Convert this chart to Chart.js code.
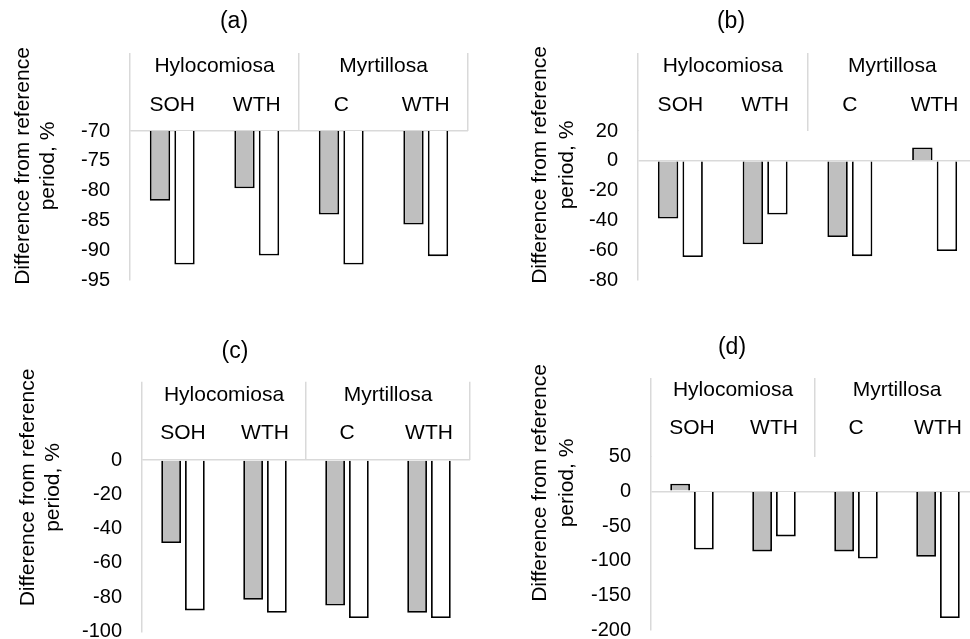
<!DOCTYPE html>
<html>
<head>
<meta charset="utf-8">
<script src="https://cdn.jsdelivr.net/npm/chart.js@4.4.1/dist/chart.umd.min.js"></script>
<style>
  html, body { margin: 0; padding: 0; background: #fff; overflow: hidden; }
  body { width: 970px; height: 639px; position: relative; }
  .panel { position: absolute; }
</style>
</head>
<body>
<div class="panel" style="left:0;top:0"><canvas id="chartA" width="485" height="320"></canvas></div>
<div class="panel" style="left:485px;top:0"><canvas id="chartB" width="533" height="320"></canvas></div>
<div class="panel" style="left:0;top:320px"><canvas id="chartC" width="490" height="319"></canvas></div>
<div class="panel" style="left:485px;top:320px"><canvas id="chartD" width="536" height="319"></canvas></div>
<script>
// categories
const groups = ["Hylocomiosa", "Myrtillosa"];
const treatments = ["SOH", "WTH", "C", "WTH"];
const yTitleLines = ["Difference from reference", "period, %"];

// values (grey bar, white bar)
const greyA = [-81.7, -79.6, -84.0, -85.7];
const whiteA = [-92.4, -90.9, -92.4, -91.0];
const greyB = [-38.7, -56.0, -51.1, 9.0];
const whiteB = [-64.6, -36.0, -64.0, -60.6];
const greyC = [-48.4, -81.5, -84.8, -89.1];
const whiteC = [-87.7, -89.1, -92.2, -92.2];
const greyD = [11, -86.6, -86.6, -94.3];
const whiteD = [-84, -65, -97, -182.8];

// axis ranges
const ticksA = { min: -95, max: -70, step: 5, cross: -70 };
const ticksB = { min: -80, max: 20, step: 20, cross: 0 };
const ticksC = { min: -100, max: 0, step: 20, cross: 0 };
const ticksD = { min: -200, max: 50, step: 50, cross: 0 };

const LINE = "#d9d9d9";
const GREY = "#bfbfbf";
const NONE = "rgba(0,0,0,0)";

Chart.defaults.font.family = "'Liberation Sans', Arial, sans-serif";
Chart.defaults.color = "#000";

// rotated two-line y axis title
const yTitlePlugin = {
    id: "yTitle",
    afterDraw(chart, args, opts) {
        const ctx = chart.ctx;
        ctx.save();
        ctx.fillStyle = "#000";
        ctx.font = "21px 'Liberation Sans', Arial, sans-serif";
        ctx.textAlign = "center";
        ctx.textBaseline = "middle";
        opts.lines.forEach((line, i) => {
            ctx.save();
            ctx.translate(opts.x[i], opts.y);
            ctx.rotate(-Math.PI / 2);
            ctx.fillText(line, 0, 0);
            ctx.restore();
        });
        ctx.restore();
    }
};

function buildChart(id, p) {
    const canvas = document.getElementById(id);
    const W = canvas.width, H = canvas.height, A = p.area;
    const headerH = A.top - p.headerTop;
    const subH = 40;
    const halfLine = 21 * 1.2 / 2;
    const titleHalf = 23 * 1.2 / 2;

    return new Chart(canvas, {
        type: "bar",
        data: {
            labels: treatments,
            datasets: [
                { label: "grey", data: p.grey, backgroundColor: GREY, borderColor: "#000", borderWidth: 1.8 },
                { label: "white", data: p.white, backgroundColor: "#fff", borderColor: "#000", borderWidth: 1.8 }
            ]
        },
        options: {
            responsive: false,
            animation: false,
            categoryPercentage: 0.58,
            barPercentage: 0.83,
            layout: { padding: { top: 0, left: 0, right: W - A.right, bottom: H - A.bottom } },
            plugins: {
                legend: { display: false },
                tooltip: { enabled: false },
                title: {
                    display: true,
                    text: p.title,
                    color: "#000",
                    font: { size: 23, weight: "normal" },
                    padding: { top: p.titleY - titleHalf, bottom: p.headerTop - p.titleY - titleHalf }
                },
                yTitle: { lines: yTitleLines, x: p.yTitleX, y: p.yTitleY }
            },
            scales: {
                x: {
                    position: "top",
                    weight: 0,
                    offset: true,
                    grid: {
                        offset: true,
                        drawOnChartArea: false,
                        drawTicks: true,
                        tickLength: headerH,
                        lineWidth: 1.5,
                        color: (ctx) => (ctx.index === undefined || ctx.index % 2 === 0) ? LINE : NONE
                    },
                    border: { display: false },
                    ticks: {
                        font: { size: 21 },
                        maxRotation: 0,
                        autoSkip: false,
                        padding: A.top - p.subY - halfLine - headerH
                    },
                    afterFit: (s) => { s.height = subH; s.paddingLeft = 0; s.paddingRight = 0; }
                },
                x2: {
                    type: "category",
                    labels: groups,
                    position: "top",
                    weight: 1,
                    offset: true,
                    grid: { display: false, drawTicks: false },
                    border: { display: false },
                    ticks: {
                        font: { size: 21 },
                        maxRotation: 0,
                        autoSkip: false,
                        padding: A.top - subH - p.groupY - halfLine
                    },
                    afterFit: (s) => { s.height = A.top - subH - p.headerTop; s.paddingLeft = 0; s.paddingRight = 0; }
                },
                y: {
                    min: p.ticks.min,
                    max: p.ticks.max,
                    ticks: { stepSize: p.ticks.step, padding: 20, font: { size: 20 } },
                    grid: {
                        drawTicks: false,
                        lineWidth: 1.5,
                        color: (ctx) => (ctx.tick && ctx.tick.value === p.ticks.cross) ? LINE : NONE
                    },
                    border: { display: true, color: LINE, width: 1.5 },
                    afterFit: (s) => { s.width = A.left; s.paddingTop = 0; s.paddingBottom = 0; }
                }
            }
        },
        plugins: [yTitlePlugin]
    });
}

buildChart("chartA", {
    title: "(a)", grey: greyA, white: whiteA, ticks: ticksA,
    area: { left: 130, right: 468, top: 131, bottom: 280 },
    headerTop: 53, titleY: 22, groupY: 66.7, subY: 105,
    yTitleX: [23, 48], yTitleY: 166
});
buildChart("chartB", {
    title: "(b)", grey: greyB, white: whiteB, ticks: ticksB,
    area: { left: 153, right: 492, top: 131, bottom: 280 },
    headerTop: 53, titleY: 22, groupY: 66, subY: 105,
    yTitleX: [55, 82], yTitleY: 165
});
buildChart("chartC", {
    title: "(c)", grey: greyC, white: whiteC, ticks: ticksC,
    area: { left: 142, right: 470, top: 140, bottom: 311.5 },
    headerTop: 61.7, titleY: 31.7, groupY: 75, subY: 113.3,
    yTitleX: [28, 53], yTitleY: 167.5
});
buildChart("chartD", {
    title: "(d)", grey: greyD, white: whiteD, ticks: ticksD,
    area: { left: 166, right: 494, top: 136.7, bottom: 310 },
    headerTop: 58, titleY: 28, groupY: 70.7, subY: 108.3,
    yTitleX: [55, 82], yTitleY: 163
});
</script>
</body>
</html>
